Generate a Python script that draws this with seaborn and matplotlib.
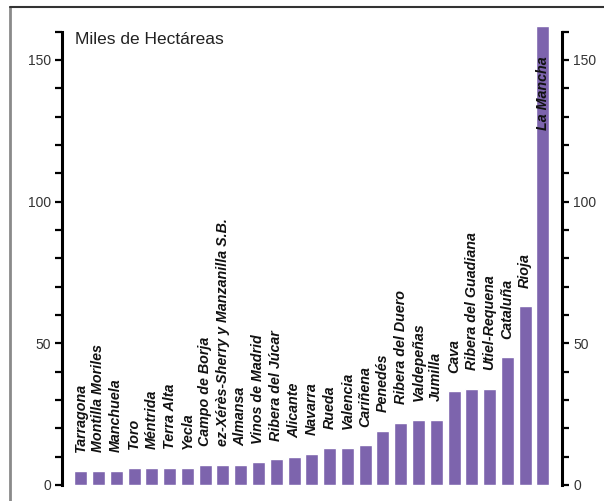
import matplotlib
matplotlib.use("Agg")
import matplotlib.pyplot as plt
import matplotlib.lines as mlines
from matplotlib.ticker import MultipleLocator
import seaborn as sns
import pandas as pd

# Superficie por denominación de origen (miles de hectáreas)
denominaciones = [
    "Tarragona", "Montilla Moriles", "Manchuela", "Toro", "Méntrida",
    "Terra Alta", "Yecla", "Campo de Borja",
    "ez-Xérès-Sherry y Manzanilla S.B.", "Almansa", "Vinos de Madrid",
    "Ribera del Júcar", "Alicante", "Navarra", "Rueda", "Valencia",
    "Cariñena", "Penedés", "Ribera del Duero", "Valdepeñas", "Jumilla",
    "Cava", "Ribera del Guadiana", "Utiel-Requena", "Cataluña", "Rioja",
    "La Mancha",
]
miles_ha = [5, 5, 5, 6, 6, 6, 6, 7, 7, 7, 8, 9, 10, 11, 13, 13, 14, 19,
            22, 23, 23, 33, 34, 34, 45, 63, 162]
titulo = "Miles de Hectáreas"
y_ticks = [0, 50, 100, 150]

purple = "#7d64ad"

sns.set_style("white")
plt.rcParams["font.family"] = ["Liberation Sans", "DejaVu Sans"]

df = pd.DataFrame({"do": denominaciones, "ha": miles_ha})

fig = plt.figure(figsize=(6.04, 5.01), dpi=100)
ax = fig.add_axes([62 / 604, 16 / 501, 500 / 604, 462 / 501])

sns.barplot(data=df, x="do", y="ha", color=purple, saturation=1,
            width=0.73, ax=ax)

ax.set_xlim(-1.05, len(denominaciones) - 1 + 1.07)
ax.set_ylim(0, 163)
ax.set_xlabel("")
ax.set_ylabel("")
ax.set_xticks([])

# ejes a ambos lados, solo hasta 160
for side in ["top", "bottom"]:
    ax.spines[side].set_visible(False)
for side in ["left", "right"]:
    ax.spines[side].set_visible(True)
    ax.spines[side].set_color("black")
    ax.spines[side].set_linewidth(2.2)
    ax.spines[side].set_bounds(0, 160)

ax.set_yticks(y_ticks)
ax.yaxis.set_minor_locator(MultipleLocator(10))
ax.tick_params(axis="y", which="both", left=True, right=True,
               labelleft=True, labelright=True, direction="out",
               length=5, width=1.6, color="black", labelsize=10,
               labelcolor="#333333", pad=3)

# etiquetas rotadas sobre cada barra
for i, (name, v) in enumerate(zip(denominaciones, miles_ha)):
    if v > 100:
        ax.annotate(name, (i, v), xytext=(0, -22), textcoords="offset points",
                    rotation=90, ha="center", va="top", fontsize=10.3,
                    fontweight="bold", fontstyle="italic", color="#111111")
    else:
        ax.annotate(name, (i, v), xytext=(0, 13.5), textcoords="offset points",
                    rotation=90, ha="center", va="bottom", fontsize=10.3,
                    fontweight="bold", fontstyle="italic", color="#111111")

ax.text(0.026, 0.965, titulo, transform=ax.transAxes,
        fontsize=12.5, color="#222222", ha="left", va="center")

# marco exterior
fig.add_artist(mlines.Line2D([10 / 604, 10 / 604], [0, 1 - 7 / 501],
                             transform=fig.transFigure, color="#8a8a8a", lw=2))
fig.add_artist(mlines.Line2D([10 / 604, 1], [1 - 7 / 501, 1 - 7 / 501],
                             transform=fig.transFigure, color="#333333", lw=1.5))

fig.savefig("out.png", dpi=100)
